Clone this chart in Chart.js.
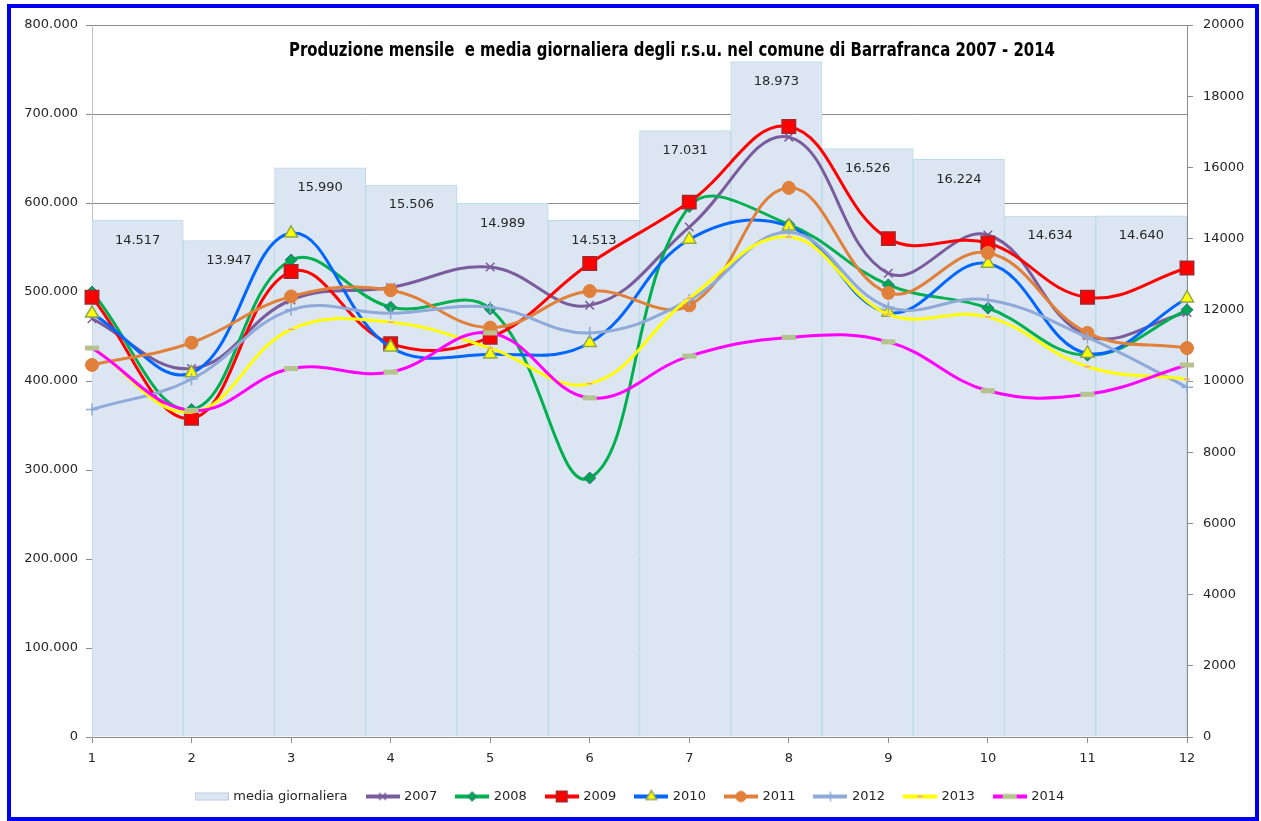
<!DOCTYPE html>
<html lang="it">
<head>
<meta charset="UTF-8">
<title>Produzione mensile r.s.u. Barrafranca</title>
<style>
  html, body { margin: 0; padding: 0; background: #fff; }
  #wrap { position: relative; width: 1261px; height: 821px; }
  #chart { display: block; }
  #frame { position: absolute; left: 7px; top: 4px; width: 1252px; height: 817px; box-sizing: border-box; border: 4px solid #0000f0; pointer-events: none; }
</style>
</head>
<body>
<div id="wrap">
  <canvas id="chart" width="1261" height="821"></canvas>
  <div id="frame"></div>
</div>
<script src="https://cdn.jsdelivr.net/npm/chart.js@4/dist/chart.umd.min.js"></script>
<script>
// dati
const months = ['1', '2', '3', '4', '5', '6', '7', '8', '9', '10', '11', '12']
const mediaGiornaliera = [14517, 13947, 15990, 15506, 14989, 14513, 17031, 18973, 16526, 16224, 14634, 14640]

const y2007 = [470000, 414000, 491000, 505000, 528000, 485000, 573000, 674000, 521000, 564000, 451000, 477000]
const y2008 = [500000, 368000, 536000, 483000, 481000, 291000, 596000, 576000, 508000, 482000, 429000, 480000]
const y2009 = [494000, 358000, 523000, 442000, 449000, 532000, 601000, 686000, 560000, 555000, 494000, 527000]
const y2010 = [476000, 409000, 566000, 438000, 430000, 443000, 559000, 574000, 477000, 532000, 431000, 493000]
const y2011 = [418000, 443000, 495000, 502000, 460000, 501000, 485000, 617000, 499000, 544000, 454000, 437000]
const y2012 = [368000, 402000, 480000, 476000, 483000, 454000, 491000, 567000, 483000, 491000, 449000, 393000]
const y2013 = [438000, 365000, 458000, 466000, 437000, 397000, 493000, 562000, 475000, 472000, 416000, 402000]
const y2014 = [437000, 367000, 414000, 410000, 454000, 381000, 428000, 449000, 444000, 389000, 385000, 418000]

const titleText = 'Produzione mensile  e media giornaliera degli r.s.u. nel comune di Barrafranca 2007 - 2014'

// numeri all'italiana: 800.000
const fmt = v => String(v).replace(/\B(?=(\d{3})+(?!\d))/g, '.')

const series = [
    { label: '2007', data: y2007, color: '#7a5c9c', marker: 'crossRot', bg: '#7a5c9c', border: '#7a5c9c', r: 6, bw: 1.5 },
    { label: '2008', data: y2008, color: '#00b050', marker: 'rectRot', bg: '#00a651', border: '#3d6e8c', r: 6, bw: 1 },
    { label: '2009', data: y2009, color: '#ff0000', marker: 'rect', bg: '#ff0000', border: '#a3282d', r: 9.5, bw: 1.5 },
    { label: '2010', data: y2010, color: '#0066ff', marker: 'triangle', bg: '#ffff00', border: '#8fa850', r: 7.5, bw: 1.5 },
    { label: '2011', data: y2011, color: '#e0803a', marker: 'circle', bg: '#e0803a', border: '#e0803a', r: 6.5, bw: 1 },
    { label: '2012', data: y2012, color: '#8faad8', marker: 'cross', bg: '#8faad8', border: '#8faad8', r: 6, bw: 1.5 },
    { label: '2013', data: y2013, color: '#ffff00', marker: 'line', bg: '#e8a0a0', border: '#e8a0a0', r: 3, bw: 1.5 },
    { label: '2014', data: y2014, color: '#ff00ff', marker: 'line', bg: '#b5c48f', border: '#b5c48f', r: 7, bw: 5 }
]

// piccolo disegno per la legenda: linea + marcatore
function swatch(s) {
    const c = document.createElement('canvas')
    c.width = 34
    c.height = 16
    const g = c.getContext('2d')
    const x = 17, y = 8
    if (!s) {
        g.fillStyle = '#dce6f2'
        g.strokeStyle = '#b9cde5'
        g.fillRect(0, 4, 34, 8)
        g.strokeRect(0.5, 4.5, 33, 7)
        return c
    }
    g.strokeStyle = s.color
    g.lineWidth = 4
    g.beginPath(); g.moveTo(0, y); g.lineTo(34, y); g.stroke()
    const r = s.r * 0.8
    g.fillStyle = s.bg
    g.strokeStyle = s.border
    g.lineWidth = s.bw
    g.beginPath()
    switch (s.marker) {
        case 'crossRot':
            g.moveTo(x - r * 0.7, y - r * 0.7); g.lineTo(x + r * 0.7, y + r * 0.7)
            g.moveTo(x + r * 0.7, y - r * 0.7); g.lineTo(x - r * 0.7, y + r * 0.7)
            g.stroke(); break
        case 'rectRot':
            g.moveTo(x, y - r); g.lineTo(x + r, y); g.lineTo(x, y + r); g.lineTo(x - r, y); g.closePath()
            g.fill(); g.stroke(); break
        case 'rect':
            g.rect(x - r * 0.7, y - r * 0.7, r * 1.4, r * 1.4); g.fill(); g.stroke(); break
        case 'triangle':
            g.moveTo(x, y - r); g.lineTo(x + r * 0.87, y + r * 0.5); g.lineTo(x - r * 0.87, y + r * 0.5); g.closePath()
            g.fill(); g.stroke(); break
        case 'circle':
            g.arc(x, y, r, 0, Math.PI * 2); g.fill(); g.stroke(); break
        case 'cross':
            g.moveTo(x, y - r); g.lineTo(x, y + r); g.moveTo(x - r, y); g.lineTo(x + r, y); g.stroke(); break
        case 'line':
            g.moveTo(x - s.r, y); g.lineTo(x + s.r, y); g.stroke(); break
    }
    return c
}

const swatches = [swatch(null)].concat(series.map(swatch))

const datasets = [{
    type: 'bar',
    label: 'media giornaliera',
    data: mediaGiornaliera,
    xAxisID: 'x2',
    yAxisID: 'y2',
    backgroundColor: '#dce6f2',
    borderColor: '#b9dbe6',
    borderWidth: 1,
    barPercentage: 1,
    categoryPercentage: 1,
    grouped: false,
    order: 100
}]

series.forEach((s, i) => {
    datasets.push({
        type: 'line',
        label: s.label,
        data: s.data,
        xAxisID: 'x',
        yAxisID: 'y',
        borderColor: s.color,
        backgroundColor: s.color,
        borderWidth: 3,
        tension: 0.4,
        fill: false,
        clip: false,
        pointStyle: s.marker,
        pointRadius: s.r,
        pointBackgroundColor: s.bg,
        pointBorderColor: s.border,
        pointBorderWidth: s.bw,
        order: 10 - i
    })
})

// etichette dentro le barre (sotto le linee)
const barLabels = {
    id: 'barLabels',
    afterDatasetDraw(chart, args) {
        if (args.index !== 0) return
        const ctx = chart.ctx
        ctx.save()
        ctx.font = '13px "DejaVu Sans"'
        ctx.fillStyle = '#262626'
        ctx.textAlign = 'center'
        ctx.textBaseline = 'middle'
        args.meta.data.forEach((bar, i) => {
            ctx.fillText(fmt(mediaGiornaliera[i]), bar.x, bar.y + 20)
        })
        ctx.restore()
    }
}

// titolo dentro l'area del grafico, come in Excel
const insideTitle = {
    id: 'insideTitle',
    afterDraw(chart) {
        const ctx = chart.ctx
        ctx.save()
        ctx.font = 'bold 19px "Liberation Sans Narrow", "DejaVu Sans Condensed", sans-serif'
        ctx.fillStyle = '#000'
        ctx.textAlign = 'center'
        ctx.textBaseline = 'alphabetic'
        ctx.fillText(titleText, 672, 56, 766)
        ctx.restore()
    }
}

Chart.defaults.font.family = '"DejaVu Sans", sans-serif'
Chart.defaults.font.size = 13
Chart.defaults.color = '#262626'

new Chart(document.getElementById('chart').getContext('2d'), {
    type: 'line',
    data: { labels: months, datasets: datasets },
    options: {
        responsive: false,
        animation: false,
        layout: { padding: { left: 0, right: 0, top: 25, bottom: 8 } },
        plugins: {
            tooltip: { enabled: false },
            legend: {
                position: 'bottom',
                labels: {
                    usePointStyle: true,
                    pointStyleWidth: 30,
                    padding: 20,
                    color: '#262626',
                    font: { size: 13 },
                    sort: (a, b) => a.datasetIndex - b.datasetIndex,
                    generateLabels(chart) {
                        const items = Chart.defaults.plugins.legend.labels.generateLabels(chart)
                        items.forEach(it => { it.pointStyle = swatches[it.datasetIndex] })
                        return items
                    }
                }
            }
        },
        scales: {
            x: {
                type: 'category',
                offset: false,
                grid: { offset: false, drawOnChartArea: false, drawTicks: true, tickLength: 6, color: '#8c8c8c' },
                border: { color: '#8c8c8c' },
                ticks: { padding: 8, autoSkip: false, maxRotation: 0 },
                afterFit: s => { s.height = 33 }
            },
            x2: {
                type: 'category',
                labels: months,
                offset: true,
                display: false
            },
            y: {
                position: 'left',
                min: 0,
                max: 800000,
                ticks: { stepSize: 100000, padding: 8, callback: v => fmt(v) },
                grid: { color: '#8c8c8c', tickLength: 6 },
                border: { color: '#bfbfbf' },
                afterFit: s => { s.width = 92 }
            },
            y2: {
                position: 'right',
                min: 0,
                max: 20000,
                ticks: { stepSize: 2000, padding: 10, callback: v => String(v) },
                grid: { drawOnChartArea: false, tickLength: 6, color: '#8c8c8c' },
                border: { color: '#8c8c8c' },
                afterFit: s => { s.width = 74 }
            }
        }
    },
    plugins: [barLabels, insideTitle]
})
</script>
</body>
</html>
